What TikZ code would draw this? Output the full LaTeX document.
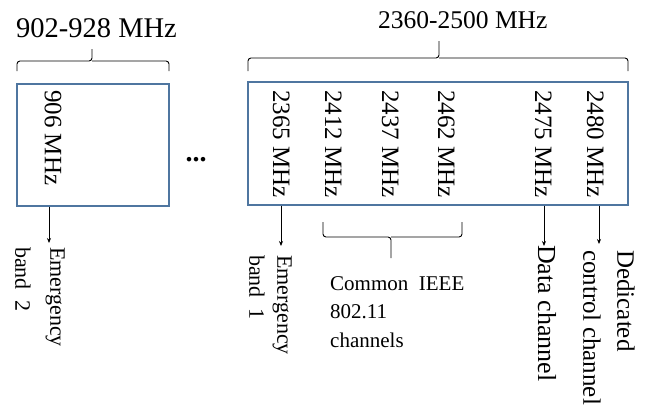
\documentclass[tikz,border=0pt]{standalone}
\usepackage{fontspec}
\setmainfont{Liberation Serif}
\usetikzlibrary{arrows.meta}
\definecolor{boxblue}{RGB}{79,118,160}
\tikzset{
  band/.style={draw=boxblue, line width=1.3pt, inner sep=0pt},
  freq/.style={rotate=-90, anchor=base west, inner sep=0pt,
    font=\fontsize{25pt}{30pt}\selectfont},
  vlabel/.style={rotate=-90, anchor=north west, inner sep=0pt, align=left},
  pointer/.style={line width=0.8pt, -{Stealth[length=5pt,width=4pt]}},
  bracket/.style={line width=0.9pt, rounded corners=3pt},
}
\begin{document}
\begin{tikzpicture}[x=1pt, y=-1pt]
\useasboundingbox (0,0) rectangle (649,405);

% range headings
\node[anchor=base west, inner sep=0pt, font=\fontsize{28.5pt}{34pt}\selectfont]
  (lowrange) at (16,37) {902-928 MHz};
\node[anchor=base west, inner sep=0pt, font=\fontsize{25.5pt}{30pt}\selectfont]
  (highrange) at (378,28) {2360-2500 MHz};

% braces under the headings
\draw[bracket] (17,71) -- (17,61) -- (92,61) -- (92,49);
\draw[bracket] (169,71) -- (169,61) -- (92,61);
\draw[bracket] (248,71) -- (248,58) -- (439,58) -- (439,41);
\draw[bracket] (628,71) -- (628,58) -- (439,58);

% the two bands
\node[band, minimum width=152pt, minimum height=122pt] (lbox) at (93,145) {};
\node[band, minimum width=380pt, minimum height=123pt] (rbox) at (438,143.5) {};

% channel frequencies
\node[freq] (f906)  at (45,90)  {906 MHz};
\node[freq] (f2365) at (273,90) {2365 MHz};
\node[freq] (f2412) at (325,90) {2412 MHz};
\node[freq] (f2437) at (382,90) {2437 MHz};
\node[freq] (f2462) at (438,90) {2462 MHz};
\node[freq] (f2475) at (535,90) {2475 MHz};
\node[freq] (f2480) at (587,90) {2480 MHz};

% gap between the bands
\node[inner sep=0pt, font=\fontsize{28pt}{30pt}\selectfont\bfseries] (gap) at (196,160) {...};

% pointer ends
\coordinate (e2) at (49,243);
\coordinate (e1) at (281,246);
\coordinate (dc) at (544,246);
\coordinate (cc) at (599,244);

\draw[pointer] (lbox.south -| e2) -- (e2);
\draw[pointer] (rbox.south -| e1) -- (e1);
\draw[pointer] (rbox.south -| dc) -- (dc);
\draw[pointer] (rbox.south -| cc) -- (cc);

% labels
\node[vlabel, font=\fontsize{22pt}{35pt}\selectfont] (lab2) at (65,247) {Emergency\\band~~2};
\node[vlabel, font=\fontsize{22pt}{28pt}\selectfont] (lab1) at (292,255) {Emergency\\band~~1};
\node[freq, font=\fontsize{26pt}{30pt}\selectfont] (labdata) at (538,245) {Data channel};
\node[vlabel, font=\fontsize{25pt}{34pt}\selectfont] (labctrl) at (635,250) {Dedicated\\control channel};

% common IEEE 802.11 channels
\draw[bracket] (323,222) -- (323,237) -- (391,237) -- (391,258);
\draw[bracket] (462,222) -- (462,237) -- (391,237);
\node[anchor=north west, inner sep=0pt, align=left, font=\fontsize{21pt}{28.5pt}\selectfont]
  (labieee) at (330,276) {Common~~IEEE\\802.11\\channels};
\end{tikzpicture}
\end{document}
